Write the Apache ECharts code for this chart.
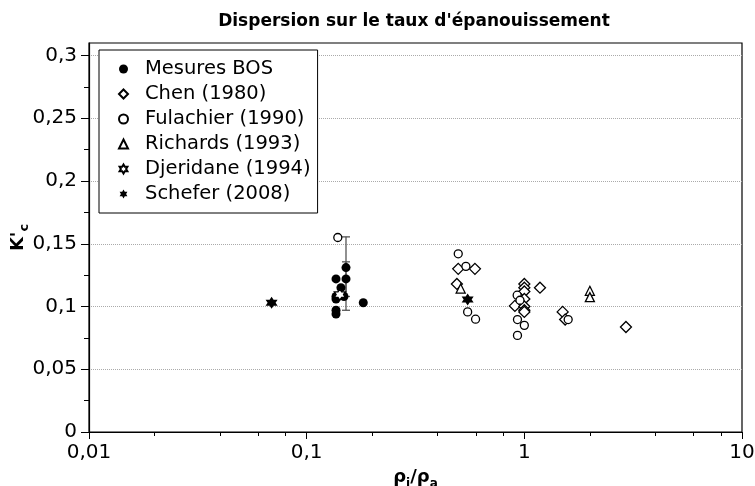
<!DOCTYPE html>
<html><head><meta charset="utf-8">
<script src="https://cdn.jsdelivr.net/npm/echarts@6/dist/echarts.min.js"></script>
<style>html,body{margin:0;padding:0;background:#fff}#c{width:755px;height:486px}</style>
</head><body><div id="c"></div>
<script>
const xTickLabels = ['0,01', '0,1', '1', '10'];
const yTickValues = [0, 0.05, 0.1, 0.15, 0.2, 0.25, 0.3];
const xMinorTicks = [0.02,0.04,0.06,0.08,0.2,0.4,0.6,0.8,2,4,6,8];
const seriesNames = ['Mesures BOS', 'Chen (1980)', 'Fulachier (1990)', 'Richards (1993)', 'Djeridane (1994)', 'Schefer (2008)'];
const bosData = [[0.1364,0.122],[0.1364,0.108],[0.1364,0.106],[0.1364,0.097],[0.1364,0.094],[0.1516,0.131],[0.1516,0.122],[0.1437,0.115],[0.1484,0.108],[0.182,0.103]];
const chenData = [[0.497,0.130],[0.593,0.130],[0.49,0.118],[0.905,0.1005],[1.0,0.118],[1.0,0.115],[1.0,0.112],[1.0,0.106],[1.0,0.100],[1.0,0.097],[1.0,0.0957],[1.18,0.115],[1.5,0.0957],[1.54,0.0896],[2.93,0.0837]];
const fulachierData = [[0.139,0.155],[0.497,0.142],[0.539,0.132],[0.549,0.0957],[0.597,0.0899],[0.927,0.109],[0.955,0.105],[0.93,0.0896],[1.0,0.085],[0.93,0.077],[1.59,0.0896]];
const richardsData = [[0.51,0.1143],[2.0,0.1125],[2.0,0.1075]];
const djeridaneData = [[0.142,0.1095]];
const scheferData = [[0.069,0.103],[0.549,0.1056]];
const errX = [0.1516, 0.1516];
const errLow = [0.097, 0.108];
const errHigh = [0.1555, 0.1356];

const FONT = 'DejaVu Sans';
const star = 'path://M0,-10 L2.887,-5 L8.66,-5 L5.774,0 L8.66,5 L2.887,5 L0,10 L-2.887,5 L-8.66,5 L-5.774,0 L-8.66,-5 L-2.887,-5 Z';
const openStyle = {color:'#fff', borderColor:'#000', borderWidth:1.3, opacity: 1};
const solidStyle = {color:'#000', opacity: 1};
const fmt = v => String(+v.toPrecision(6)).replace('.', ',');

const chart = echarts.init(document.getElementById('c'), null, {renderer:'canvas'});
chart.setOption({
  animation: false,
  textStyle: {fontFamily: FONT},
  title: {text: 'Dispersion sur le taux d\'épanouissement', left: 409, textAlign: 'center', top: 8,
    textStyle: {fontFamily: FONT, fontWeight: 'bold', fontSize: 17, color: '#000'}},
  grid: {left: 89, right: 13, top: 43, bottom: 54, show: true, borderColor: '#000', borderWidth: 1.2,
    backgroundColor: 'transparent', outerBoundsMode: 'none', containLabel: false},
  legend: {
    orient: 'vertical', left: 99, top: 50, padding: [9, 7, 9, 19],
    borderColor: '#000', borderWidth: 1, backgroundColor: '#fff',
    itemWidth: 9, itemHeight: 9, itemGap: 5, symbolKeepAspect: true,
    textStyle: {fontFamily: FONT, fontSize: 19.5, color: '#000', lineHeight: 20, padding: [0, 0, 0, 12]},
    data: seriesNames
  },
  xAxis: [{
    type: 'log', logBase: 10, min: 0.01, max: 10,
    name: '{m|ρ}{s|j}{m|/ρ}{s|a}', nameLocation: 'middle', nameGap: 36, nameMoveOverlap: false,
    nameTextStyle: {rich: {
      m: {fontFamily: FONT, fontSize: 18, fontWeight: 'bold', color:'#000', verticalAlign:'bottom', padding:[0,0,4,0]},
      s: {fontFamily: FONT, fontSize: 12, fontWeight: 'bold', color:'#000', verticalAlign:'bottom'}}},
    axisLine: {show: true, lineStyle: {color: '#000', width: 1.2}},
    axisTick: {show: true, length: 7, inside: false, lineStyle: {color: '#000'}},
    axisLabel: {fontFamily: FONT, fontSize: 20, color: '#000', margin: 11,
      formatter: (v) => xTickLabels[Math.round(Math.log10(v)) + 2] || ''},
    splitLine: {show: false}
  }, {
    type: 'log', logBase: 10, min: 0.01, max: 10, position: 'bottom',
    axisLine: {show: false}, axisLabel: {show: false}, splitLine: {show: false},
    axisTick: {show: true, length: 4, customValues: xMinorTicks, lineStyle: {color: '#000'}}
  }],
  yAxis: {
    type: 'value', min: 0, max: 0.31, interval: 0.05,
    name: '{m|K\'}{s|c}', nameLocation: 'middle', nameGap: 58, nameRotate: 90, nameMoveOverlap: false,
    nameTextStyle: {rich: {
      m: {fontFamily: FONT, fontSize: 18, fontWeight: 'bold', color:'#000', verticalAlign:'bottom', padding:[0,0,4,0]},
      s: {fontFamily: FONT, fontSize: 13, fontWeight: 'bold', color:'#000', verticalAlign:'bottom'}}},
    axisLine: {show: true, lineStyle: {color: '#000', width: 1.2}},
    axisTick: {show: true, length: 8, customValues: yTickValues, lineStyle: {color: '#000'}},
    minorTick: {show: true, splitNumber: 2, length: 5, lineStyle: {color: '#000'}},
    axisLabel: {fontFamily: FONT, fontSize: 20, color: '#000', margin: 12, customValues: yTickValues, formatter: fmt},
    splitLine: {show: true, lineStyle: {color: '#aaa', type: 'dotted', width: 1}}
  },
  series: [
    {type: 'custom', name: 'err', z: 1, silent: true,
     data: errX.map((x, i) => [x, errLow[i], errHigh[i]]),
     renderItem: (params, api) => {
       const lo = api.coord([api.value(0), api.value(1)]);
       const hi = api.coord([api.value(0), api.value(2)]);
       const w = 4;
       const st = {stroke: '#555', lineWidth: 1.3};
       return {type: 'group', children: [
         {type: 'line', shape: {x1: lo[0], y1: lo[1], x2: hi[0], y2: hi[1]}, style: st},
         {type: 'line', shape: {x1: lo[0]-w, y1: lo[1], x2: lo[0]+w, y2: lo[1]}, style: st},
         {type: 'line', shape: {x1: hi[0]-w, y1: hi[1], x2: hi[0]+w, y2: hi[1]}, style: st}
       ]};
     }},
    {type: 'scatter', name: seriesNames[0], data: bosData, symbol: 'circle', symbolSize: 9, z: 2, itemStyle: solidStyle},
    {type: 'scatter', name: seriesNames[1], data: chenData, symbol: 'diamond', symbolSize: [11, 11], z: 3, itemStyle: openStyle},
    {type: 'scatter', name: seriesNames[2], data: fulachierData, symbol: 'circle', symbolSize: 8, z: 4, itemStyle: openStyle},
    {type: 'scatter', name: seriesNames[3], data: richardsData, symbol: 'triangle', symbolSize: 9, z: 5, itemStyle: openStyle},
    {type: 'scatter', name: seriesNames[4], data: djeridaneData, symbol: star, symbolSize: 11, z: 6, itemStyle: openStyle},
    {type: 'scatter', name: seriesNames[5], data: scheferData, symbol: star, symbolSize: 12, z: 7, itemStyle: solidStyle}
  ]
});
</script></body></html>
